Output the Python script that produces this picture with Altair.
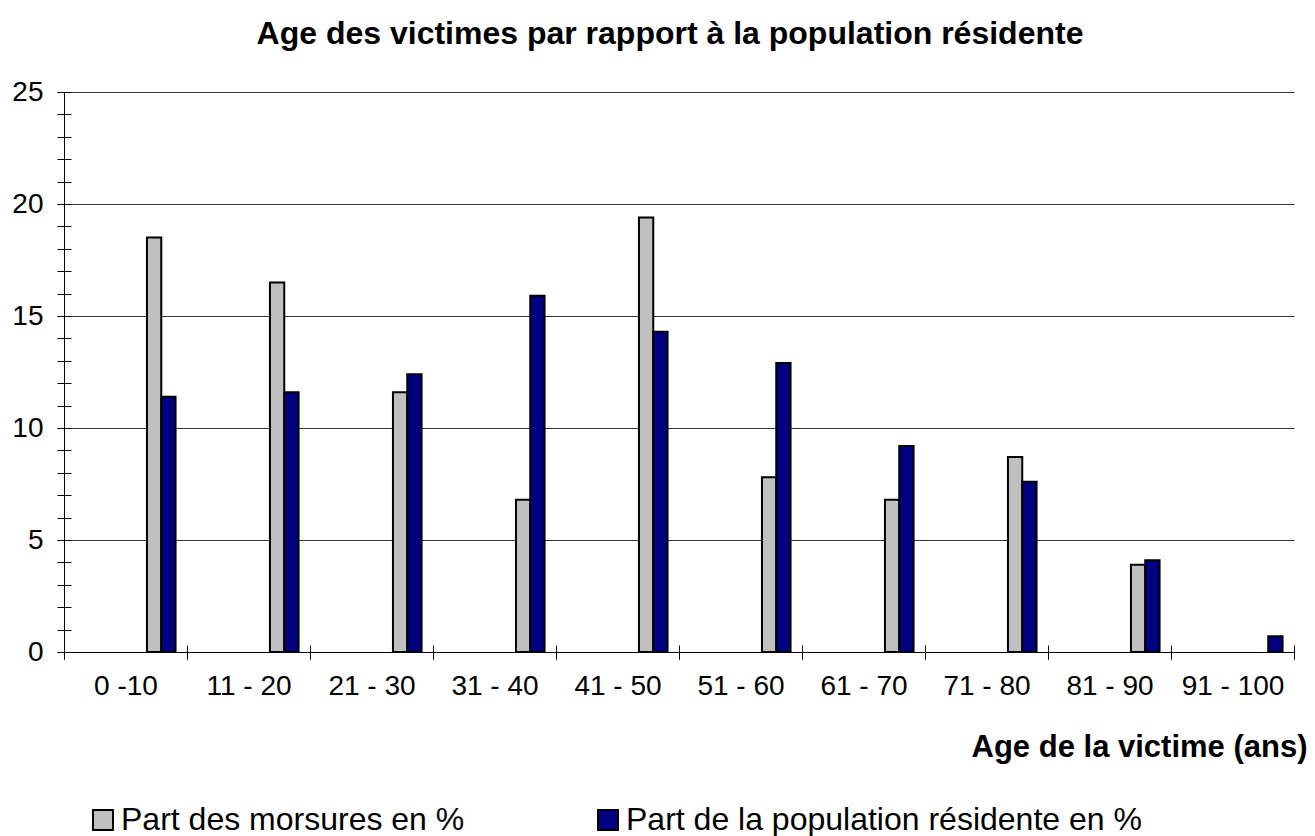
import altair as alt
import pandas as pd

categories = ["0 -10", "11 - 20", "21 - 30", "31 - 40", "41 - 50",
              "51 - 60", "61 - 70", "71 - 80", "81 - 90", "91 - 100"]
morsures = [18.5, 16.5, 11.6, 6.8, 19.4, 7.8, 6.8, 8.7, 3.9, None]
population = [11.4, 11.6, 12.4, 15.9, 14.3, 12.9, 9.2, 7.6, 4.1, 0.7]
series = ["Part des morsures en %", "Part de la population résidente en %"]
colors = ["#C0C0C0", "#000080"]
y_major = [0, 5, 10, 15, 20, 25]
y_minor = list(range(0, 26))
# empty slots of the original Excel cluster (bars sit at the right of each group)
empty_slots = ["_a", "_b", "_c", "_d", "_e"]

rows = []
for c, m, p in zip(categories, morsures, population):
    if m is not None:
        rows.append({"age": c, "serie": series[0], "valeur": m})
    if p is not None:
        rows.append({"age": c, "serie": series[1], "valeur": p})
df = pd.DataFrame(rows)

FONT = "Liberation Sans, Arial, Helvetica, sans-serif"

x_scale = alt.Scale(domain=categories, paddingInner=0, paddingOuter=0)
y_scale = alt.Scale(domain=[0, 25], nice=False)
off_scale = alt.Scale(domain=empty_slots + series, paddingInner=0, paddingOuter=0.8)

base = alt.Chart(df)

bars = base.mark_bar(stroke="black", strokeWidth=2).encode(
    x=alt.X("age:N", sort=categories, scale=x_scale,
            axis=alt.Axis(orient="bottom", title="Age de la victime (ans)", labelAngle=0,
                          tickBand="extent", tickSize=7, tickColor="black", tickWidth=1,
                          domainColor="black", domainWidth=1, grid=False,
                          labelFont=FONT, labelFontSize=28, labelColor="black", labelPadding=13,
                          titleFont=FONT, titleFontSize=31, titleFontWeight="bold",
                          titleColor="black", titleAnchor="end", titleAlign="right",
                          titleBaseline="alphabetic", titleX=1243, titleY=104)),
    xOffset=alt.XOffset("serie:N", scale=off_scale),
    y=alt.Y("valeur:Q", scale=y_scale,
            axis=alt.Axis(orient="left", title=None, values=y_major, tickSize=7,
                          tickColor="black", tickWidth=1, domainColor="black", domainWidth=1,
                          grid=True, gridColor="#333333", gridWidth=1,
                          labelFont=FONT, labelFontSize=28, labelColor="black", labelPadding=14)),
    color=alt.Color("serie:N", sort=series, scale=alt.Scale(domain=series, range=colors),
                    legend=alt.Legend(title=None, orient="none", legendX=23, legendY=712,
                                      direction="horizontal", columnPadding=127,
                                      symbolType="square", symbolSize=400,
                                      symbolStrokeColor="black", symbolStrokeWidth=2,
                                      symbolOpacity=1, labelFont=FONT, labelFontSize=32,
                                      labelColor="black", labelOffset=2, labelLimit=0,
                                      padding=0)),
)

ticks_layer = base.mark_bar(opacity=0).encode(
    x=alt.X("age:N", sort=categories, scale=x_scale,
            axis=alt.Axis(orient="bottom", title=None, labels=False, domain=False, grid=False,
                          tickBand="extent", tickSize=14, tickColor="black", tickWidth=1,
                          offset=-7)),
    xOffset=alt.XOffset("serie:N", scale=off_scale),
    y=alt.Y("valeur:Q", scale=y_scale,
            axis=alt.Axis(orient="left", title=None, labels=False, domain=False, grid=False,
                          values=y_minor, tickSize=14, tickColor="black", tickWidth=1,
                          offset=-7)),
)

chart = alt.layer(bars, ticks_layer).resolve_axis(
    x="independent", y="independent"
).properties(
    width=1230,
    height=560,
    padding={"left": 56, "top": 84, "right": 13, "bottom": 184},
    autosize=alt.AutoSizeParams(type="none"),
    title=alt.TitleParams(text="Age des victimes par rapport à la population résidente",
                          font=FONT, fontSize=32, fontWeight="bold", color="black",
                          anchor="middle", frame="group", dx=-9, dy=33, offset=35,
                          baseline="alphabetic"),
).configure_view(stroke=None)

chart.save("out.html", embed_options={"renderer": "svg", "actions": False})
